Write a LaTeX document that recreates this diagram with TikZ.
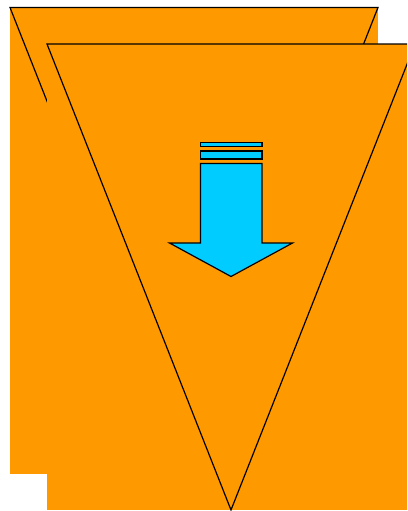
\documentclass[tikz,border=0pt]{standalone}
\usepackage{tikz}
\definecolor{flagorange}{HTML}{FF9900}
\definecolor{arrowcyan}{HTML}{00CCFF}

\begin{document}
\begin{tikzpicture}[x=1pt,y=-1pt,
  flag/.style={fill=flagorange},
  edge/.style={draw=black,line width=1.2pt,line join=miter},
  arrowpart/.style={draw=black,fill=arrowcyan,line width=1.2pt}]
  \useasboundingbox (0,0) rectangle (407,511);
  \clip (0,0) rectangle (407,511);
  % two flags, the front one shifted
  \foreach \dx/\dy in {10/7.5,47/44} {
    \fill[flag] (\dx,\dy) rectangle ++(368,466);
    \draw[edge] (\dx,\dy) -- ++(368,0) -- ++(-184,466) -- cycle;
  }
  % down arrow
  \draw[arrowpart] (200.5,142.5) rectangle (262,146.5);
  \draw[arrowpart] (200.5,151) rectangle (262,159);
  \draw[arrowpart] (200.5,163.5) -- (262,163.5) -- (262,243) -- (292.5,243)
    -- (231,276.5) -- (169.5,243) -- (200.5,243) -- cycle;
\end{tikzpicture}
\end{document}
